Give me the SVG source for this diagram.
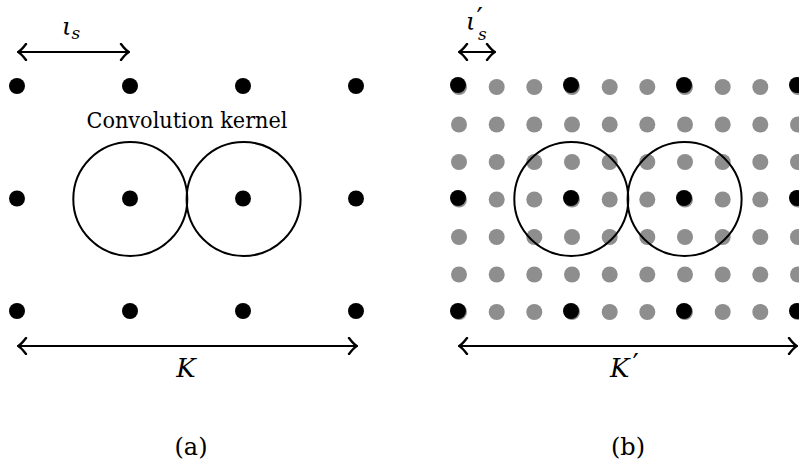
<svg xmlns="http://www.w3.org/2000/svg" width="799" height="461" viewBox="0 0 799 461">
<defs>
<style>
.b{fill:#000}
.g{fill:#8e8e8e}
.k{fill:none;stroke:#000;stroke-width:2}
.a{fill:none;stroke:#000;stroke-width:2.2}
text{font-family:'DejaVu Serif','Liberation Serif',serif;fill:#000}
.i{font-style:italic}
.p{font-style:normal}
</style>
<marker id="h" viewBox="-9 -9 11 18" markerWidth="11" markerHeight="18" refX="0" refY="0" orient="auto-start-reverse" markerUnits="userSpaceOnUse">
<path d="M-7,-8 Q-2.5,-2 0.8,0 Q-2.5,2 -7,8" fill="none" stroke="#000" stroke-width="2.4" stroke-linecap="round"/>
</marker>
<circle id="bd" r="8"/>
</defs>
<rect width="799" height="461" fill="#fff"/>

<g id="panel-a-grid" class="b">
<use href="#bd" x="17" y="86"/><use href="#bd" x="130" y="86"/><use href="#bd" x="243" y="86"/><use href="#bd" x="356" y="86"/>
<use href="#bd" x="17" y="198.5"/><use href="#bd" x="130" y="198.5"/><use href="#bd" x="243" y="198.5"/><use href="#bd" x="356" y="198.5"/>
<use href="#bd" x="17" y="311"/><use href="#bd" x="130" y="311"/><use href="#bd" x="243" y="311"/><use href="#bd" x="356" y="311"/>
</g>
<g id="kernel-a-left"><circle class="k" cx="130.3" cy="199" r="57"/></g>
<g id="kernel-a-right"><circle class="k" cx="243.6" cy="199" r="57"/></g>
<g id="label-kernel"><text x="187" y="128" font-size="22" text-anchor="middle" textLength="201" lengthAdjust="spacingAndGlyphs">Convolution kernel</text></g>

<g id="panel-b-gray" class="g">
<g id="r0"><use href="#bd" x="459" y="87"/><use href="#bd" x="496.7" y="87"/><use href="#bd" x="534.3" y="87"/><use href="#bd" x="572" y="87"/><use href="#bd" x="609.7" y="87"/><use href="#bd" x="647.3" y="87"/><use href="#bd" x="685" y="87"/><use href="#bd" x="722.7" y="87"/><use href="#bd" x="760.3" y="87"/><use href="#bd" x="798" y="87"/></g>
<use href="#r0" y="37.5"/><use href="#r0" y="75"/><use href="#r0" y="112.5"/><use href="#r0" y="150"/><use href="#r0" y="187.5"/><use href="#r0" y="225"/>
</g>
<g id="panel-b-black" class="b">
<use href="#bd" x="458" y="85"/><use href="#bd" x="571" y="85"/><use href="#bd" x="684" y="85"/><use href="#bd" x="797" y="85"/>
<use href="#bd" x="458" y="198"/><use href="#bd" x="571" y="198"/><use href="#bd" x="684" y="198"/><use href="#bd" x="797" y="198"/>
<use href="#bd" x="458" y="311"/><use href="#bd" x="571" y="311"/><use href="#bd" x="684" y="311"/><use href="#bd" x="797" y="311"/>
</g>
<g id="kernel-b-left"><circle class="k" cx="571.3" cy="199" r="57"/></g>
<g id="kernel-b-right"><circle class="k" cx="684.6" cy="199" r="57"/></g>

<g id="connectors">
<line class="a" x1="19" y1="52" x2="128" y2="52" marker-start="url(#h)" marker-end="url(#h)"/>
<line class="a" x1="19" y1="346" x2="356" y2="346" marker-start="url(#h)" marker-end="url(#h)"/>
<line class="a" x1="460" y1="52" x2="494" y2="52" marker-start="url(#h)" marker-end="url(#h)"/>
<line class="a" x1="460" y1="346" x2="796" y2="346" marker-start="url(#h)" marker-end="url(#h)"/>
</g>

<g id="labels">
<text class="i" x="62" y="35" font-size="24">ι<tspan font-size="17" dy="4">s</tspan></text>
<text class="i" x="466" y="30" font-size="24">ι<tspan class="p" font-size="28" dx="1" dy="-2">′</tspan></text>
<text class="i" x="478" y="40" font-size="17">s</text>
<text class="i" x="186" y="377" font-size="26" text-anchor="middle">K</text>
<text class="i" x="610" y="377" font-size="26">K<tspan class="p" font-size="28" dx="3" dy="-3">′</tspan></text>
<text x="191" y="455" font-size="24" text-anchor="middle">(a)</text>
<text x="628" y="455" font-size="24" text-anchor="middle">(b)</text>
</g>
</svg>
